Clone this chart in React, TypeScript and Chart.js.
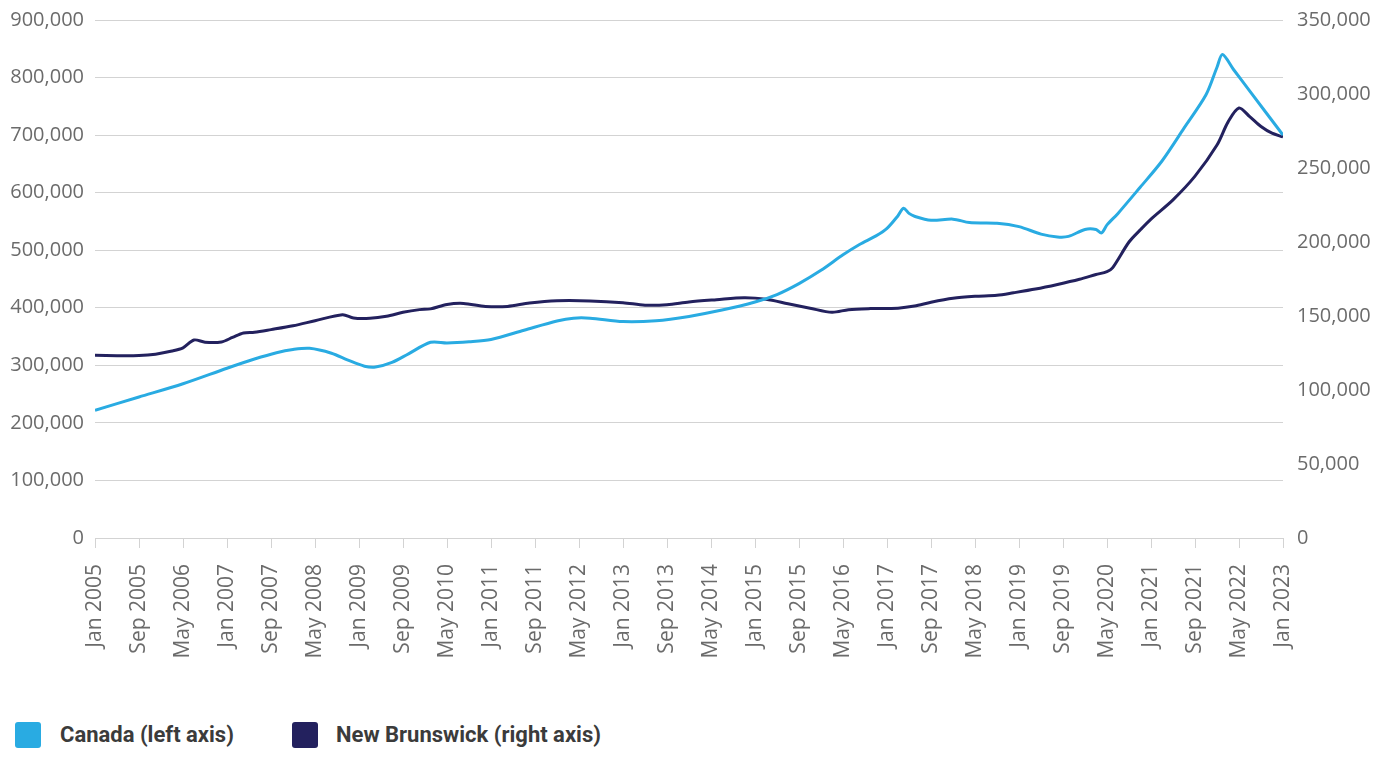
import React, { useEffect, useRef } from "react";
import { Chart, registerables } from "chart.js";

Chart.register(...registerables);

// Month labels for the x axis
const monthNames = ["Jan", "Feb", "Mar", "Apr", "May", "Jun", "Jul", "Aug", "Sep", "Oct", "Nov", "Dec"];
const startYear = 2005;
const totalMonths = 216; // Jan 2005 .. Jan 2023
const tickEvery = 8;

// Canada average price (left axis)
const canadaDates = [
  "2005-01", "2005-09", "2006-05", "2007-01", "2007-06", "2007-10", "2008-01", "2008-04", "2008-08", "2008-11",
  "2009-02", "2009-04", "2009-07", "2009-10", "2010-02", "2010-05", "2010-09", "2011-01", "2011-07", "2012-01",
  "2012-04", "2012-07", "2013-01", "2013-07", "2014-01", "2014-07", "2015-01", "2015-05", "2015-09", "2016-01",
  "2016-05", "2016-08", "2016-11", "2017-01", "2017-03", "2017-04", "2017-05", "2017-06", "2017-09", "2018-01",
  "2018-04", "2018-09", "2019-01", "2019-05", "2019-08", "2019-10", "2020-01", "2020-03", "2020-04", "2020-05",
  "2020-07", "2020-11", "2021-03", "2021-07", "2021-11", "2022-01", "2022-02", "2022-04", "2022-07", "2023-01",
];
const canadaValues = [
  222000, 245000, 268000, 295000, 311000, 322000, 327500, 329500, 321000, 309000,
  298500, 297000, 305000, 320000, 340000, 339000, 341000, 345000, 361000, 377000,
  382000, 382000, 376000, 377500, 385000, 396000, 410000, 423000, 442000, 465000,
  492000, 510000, 525000, 538000, 560000, 573000, 564000, 559000, 552000, 554000,
  548000, 547000, 541000, 528000, 523000, 524000, 536000, 536000, 530000, 544000,
  564000, 609000, 655000, 712000, 770000, 818000, 840000, 814000, 776000, 700000,
];

// New Brunswick average price (right axis)
const nbDates = [
  "2005-01", "2005-05", "2005-09", "2005-12", "2006-03", "2006-05", "2006-07", "2006-09", "2006-12", "2007-02",
  "2007-04", "2007-06", "2007-09", "2008-01", "2008-05", "2008-10", "2008-12", "2009-03", "2009-06", "2009-09",
  "2009-12", "2010-02", "2010-05", "2010-08", "2010-12", "2011-04", "2011-08", "2012-01", "2012-07", "2013-01",
  "2013-05", "2013-09", "2014-01", "2014-06", "2014-11", "2015-03", "2015-07", "2015-11", "2016-03", "2016-06",
  "2016-10", "2017-03", "2017-06", "2017-09", "2018-01", "2018-05", "2018-09", "2018-12", "2019-04", "2019-08",
  "2019-12", "2020-03", "2020-05", "2020-06", "2020-09", "2020-11", "2021-01", "2021-05", "2021-09", "2022-01",
  "2022-03", "2022-05", "2022-07", "2022-09", "2022-11", "2023-01",
];
const nbValues = [
  123400, 123200, 123300, 124200, 126300, 128500, 133800, 132300, 132500, 135500,
  138500, 139000, 140800, 143400, 146800, 150900, 148600, 148400, 149800, 152500,
  154300, 154800, 157800, 158500, 156500, 156500, 158800, 160300, 160200, 159000,
  157300, 157600, 159500, 161000, 162300, 161300, 158300, 155300, 152500, 154300,
  155000, 155300, 156700, 159300, 162000, 163300, 164000, 165700, 168200, 171300,
  174800, 178000, 180000, 182500, 200000, 208000, 215500, 228500, 244500, 265500,
  281000, 290500, 284500, 278000, 273500, 271000,
];

const seriesNames = ["Canada (left axis)", "New Brunswick (right axis)"];
const seriesColors = ["#29abe2", "#23215e"];

const leftMax = 900000;
const leftStep = 100000;
const rightMax = 350000;
const rightStep = 50000;

function monthIndex(d: string): number {
  const [y, m] = d.split("-").map(Number);
  return (y - startYear) * 12 + (m - 1);
}
function monthLabel(i: number): string {
  return monthNames[i % 12] + " " + (startYear + Math.floor(i / 12));
}
function toPoints(dates: string[], values: number[]) {
  return dates.map((d, i) => ({ x: monthIndex(d), y: values[i] }));
}

const tickFont = { family: "'Open Sans', sans-serif", size: 20, weight: 400 as any };
const xTickFont = { family: "'Open Sans', sans-serif", size: 21, weight: 400 as any };
const tickColor = "#6b6b6b";
const gridColor = "#d3d3d3";

export default function App() {
  const ref = useRef<HTMLCanvasElement | null>(null);

  useEffect(() => {
    if (!ref.current) return;
    const chart = new Chart(ref.current, {
      type: "line",
      data: {
        datasets: [
          {
            label: seriesNames[0],
            data: toPoints(canadaDates, canadaValues),
            borderColor: seriesColors[0],
            backgroundColor: seriesColors[0],
            borderWidth: 3,
            pointRadius: 0,
            tension: 0.3,
            yAxisID: "y",
          },
          {
            label: seriesNames[1],
            data: toPoints(nbDates, nbValues),
            borderColor: seriesColors[1],
            backgroundColor: seriesColors[1],
            borderWidth: 3,
            pointRadius: 0,
            tension: 0.3,
            yAxisID: "y1",
          },
        ],
      },
      options: {
        animation: false,
        responsive: true,
        maintainAspectRatio: false,
        layout: { padding: 0 },
        plugins: { legend: { display: false }, tooltip: { enabled: false } },
        scales: {
          x: {
            type: "linear",
            min: 0,
            max: totalMonths,
            afterFit: (s: any) => {
              s.height = 170;
            },
            ticks: {
              stepSize: tickEvery,
              autoSkip: false,
              maxRotation: 90,
              minRotation: 90,
              padding: 16,
              color: tickColor,
              font: xTickFont,
              callback: (v: any) => monthLabel(Number(v)),
            },
            grid: { drawOnChartArea: false, drawTicks: true, tickLength: 10, color: gridColor },
            border: { display: true, color: gridColor },
          },
          y: {
            position: "left",
            min: 0,
            max: leftMax,
            afterFit: (s: any) => {
              s.width = 87;
              s.paddingTop = 12;
              s.paddingBottom = 0;
            },
            ticks: {
              stepSize: leftStep,
              padding: 11,
              color: tickColor,
              font: tickFont,
              callback: (v: any) => Number(v).toLocaleString("en-US"),
            },
            grid: { color: gridColor, drawTicks: false },
            border: { display: false },
          },
          y1: {
            position: "right",
            min: 0,
            max: rightMax,
            afterFit: (s: any) => {
              s.width = 98;
              s.paddingTop = 12;
              s.paddingBottom = 0;
            },
            ticks: {
              stepSize: rightStep,
              padding: 14,
              color: tickColor,
              font: tickFont,
              callback: (v: any) => Number(v).toLocaleString("en-US"),
            },
            grid: { display: false, drawTicks: false },
            border: { display: false },
          },
        },
      },
    });
    return () => chart.destroy();
  }, []);

  const legendTop = 714;
  const legendText: React.CSSProperties = {
    position: "absolute",
    top: legendTop,
    height: 26,
    lineHeight: "26px",
    fontFamily: "Roboto, sans-serif",
    fontWeight: 700,
    fontSize: 22,
    color: "#3b3b3b",
    whiteSpace: "nowrap",
  };
  const box = (left: number, color: string): React.CSSProperties => ({
    position: "absolute",
    left,
    top: legendTop,
    width: 26,
    height: 26,
    borderRadius: 3,
    background: color,
  });

  return (
    <div style={{ position: "relative", width: 1373, height: 741 }}>
      <div style={{ position: "absolute", left: 0, top: 0, width: 1373, height: 700 }}>
        <canvas ref={ref} />
      </div>
      <div style={box(7, seriesColors[0])} />
      <div style={{ ...legendText, left: 52 }}>{seriesNames[0]}</div>
      <div style={box(284, seriesColors[1])} />
      <div style={{ ...legendText, left: 328 }}>{seriesNames[1]}</div>
    </div>
  );
}
